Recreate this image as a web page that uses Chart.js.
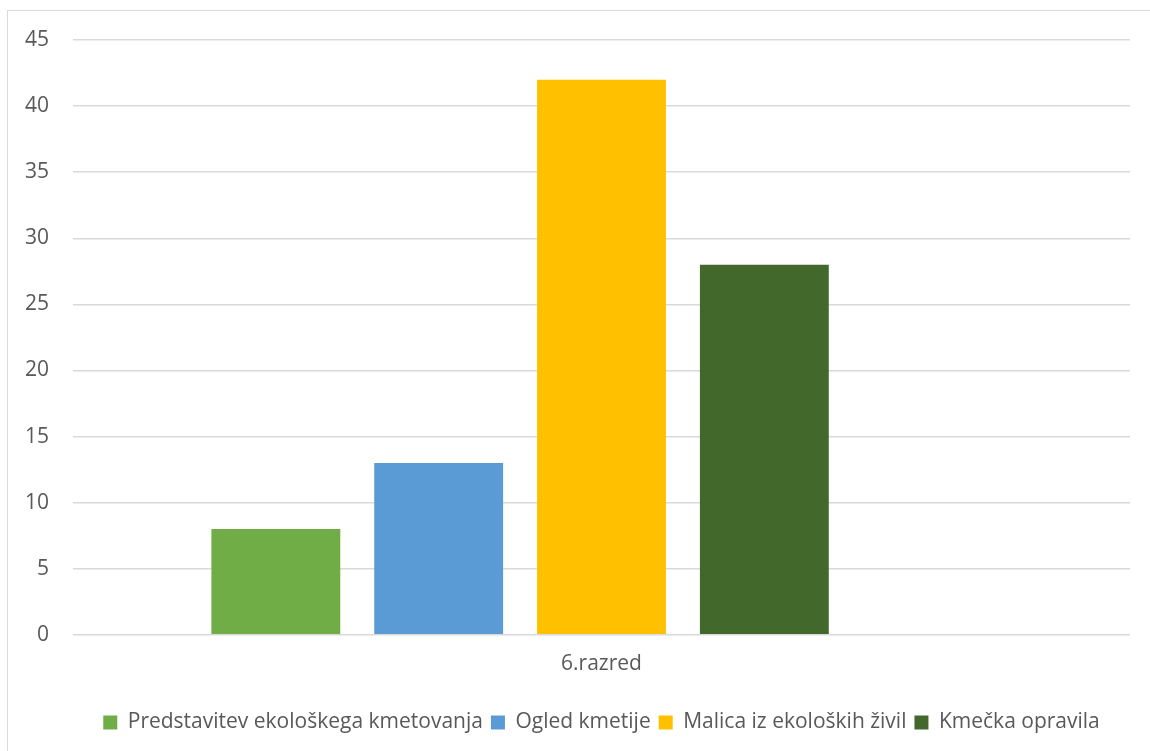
<!DOCTYPE html>
<html>
<head>
<meta charset="utf-8">
<script src="https://cdn.jsdelivr.net/npm/chart.js@4.4.1/dist/chart.umd.min.js"></script>
<style>
  html, body { margin: 0; padding: 0; background: #ffffff; overflow: hidden; }
  #frame { position: absolute; left: 7px; top: 10px; width: 1160px; height: 760px; border: 1px solid #d9d9d9; box-sizing: border-box; }
  #wrap { position: absolute; left: 0; top: 0; width: 1150px; height: 751px; }
</style>
</head>
<body>
<div id="frame"></div>
<div id="wrap"><canvas id="c" width="1150" height="751"></canvas></div>
<script>
const categories = ['6.razred'];
const seriesNames = ['Predstavitev ekološkega kmetovanja', 'Ogled kmetije', 'Malica iz ekoloških živil', 'Kmečka opravila', ''];
const seriesValues = [[8], [13], [42], [28], [null]];
const seriesColors = ['#70AD47', '#5B9BD5', '#FFC000', '#43682B', '#A5A5A5'];
const yTicks = [0, 5, 10, 15, 20, 25, 30, 35, 40, 45];

const FONT = "'Open Sans', sans-serif";
const TXT = '#595959';

new Chart(document.getElementById('c'), {
  type: 'bar',
  data: {
    labels: categories,
    datasets: seriesNames.map((n, i) => ({
      label: n,
      data: seriesValues[i],
      backgroundColor: seriesColors[i],
      borderWidth: 0,
      categoryPercentage: 0.7703,
      barPercentage: 0.7914
    }))
  },
  options: {
    responsive: false,
    animation: false,
    layout: { padding: { left: 1, right: 20, top: 40, bottom: 8 } },
    plugins: {
      legend: {
        position: 'bottom',
        fullSize: false,
        labels: {
          font: { family: FONT, size: 21 },
          color: TXT,
          boxWidth: 14,
          boxHeight: 14,
          padding: 8,
          filter: (item) => item.text !== ''
        }
      },
      tooltip: { enabled: false }
    },
    scales: {
      x: {
        grid: { display: false, drawTicks: false },
        border: { display: false },
        ticks: { font: { family: FONT, size: 21 }, color: TXT, padding: 17 },
        afterFit: (axis) => { axis.height += 10; }
      },
      y: {
        min: 0, max: 45,
        afterBuildTicks: (axis) => { axis.ticks = yTicks.map(v => ({ value: v })); },
        grid: { color: '#d9d9d9', lineWidth: 1.5, drawTicks: false },
        border: { display: false },
        ticks: { font: { family: FONT, size: 21 }, color: TXT, padding: 24 }
      }
    }
  }
});
</script>
</body>
</html>
